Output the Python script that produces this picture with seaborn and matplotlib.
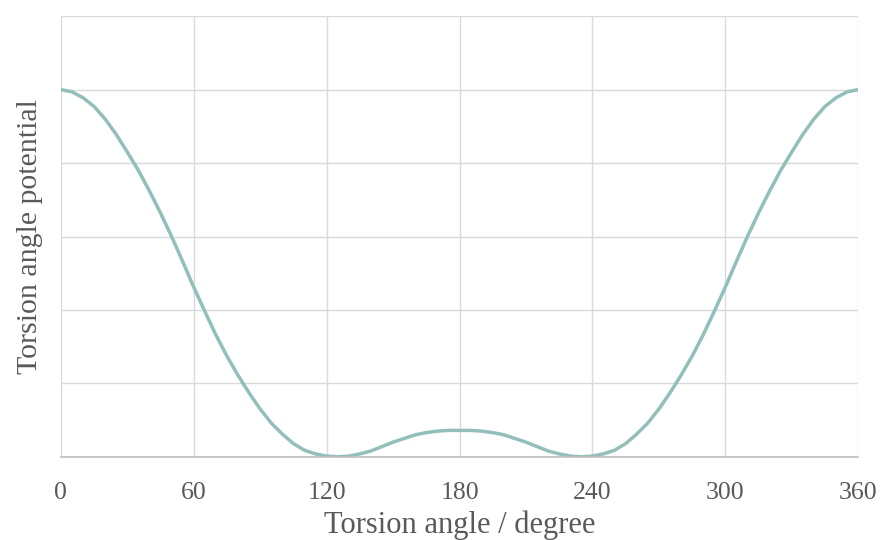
import matplotlib
matplotlib.use("Agg")
import matplotlib.pyplot as plt
import seaborn as sns
import pandas as pd

angles = [0, 5, 10, 15, 20, 25, 30, 35, 40, 45, 50, 55, 60, 65, 70, 75, 80, 85, 90,
          95, 100, 105, 110, 115, 120, 125, 130, 135, 140, 145, 150, 155, 160, 165, 170, 175,
          180, 185, 190, 195, 200, 205, 210, 215, 220, 225, 230, 235, 240, 245, 250, 255,
          260, 265, 270, 275, 280, 285, 290, 295, 300, 305, 310, 315, 320, 325, 330, 335,
          340, 345, 350, 355, 360]
potential = [5.00, 4.97, 4.89, 4.77, 4.60, 4.39, 4.15, 3.90, 3.62, 3.32, 3.00, 2.66,
             2.31, 1.98, 1.66, 1.37, 1.11, 0.87, 0.65, 0.46, 0.31, 0.18, 0.09, 0.04,
             0.01, 0.00, 0.01, 0.04, 0.08, 0.14, 0.20, 0.25, 0.30, 0.33, 0.35, 0.36,
             0.36, 0.36, 0.35, 0.33, 0.30, 0.25, 0.20, 0.14, 0.08, 0.04, 0.01, 0.00,
             0.01, 0.04, 0.09, 0.18, 0.31, 0.46, 0.65, 0.87, 1.11, 1.37, 1.66, 1.98,
             2.31, 2.66, 3.00, 3.32, 3.62, 3.90, 4.15, 4.39, 4.60, 4.77, 4.89, 4.97, 5.00]
x_ticks = [0, 60, 120, 180, 240, 300, 360]
y_grid = [0, 1, 2, 3, 4, 5, 6]

df = pd.DataFrame({"angle": angles, "potential": potential})

sns.set_theme(style="white")
plt.rcParams['font.family'] = ['Liberation Serif', 'DejaVu Serif']

fig = plt.figure(figsize=(8.82, 5.4), dpi=100)
ax = fig.add_axes([0.069, 0.154, 0.904, 0.816])

sns.lineplot(data=df, x="angle", y="potential", ax=ax, color="#93BFBB", linewidth=2.5)

ax.set_xlim(0, 360)
ax.set_ylim(0, 6)
ax.set_xticks(x_ticks)
ax.set_xticklabels([str(t) for t in x_ticks], fontsize=18.5, color="#595959")
ax.set_yticks(y_grid)
ax.set_yticklabels([])
ax.tick_params(axis="x", length=0, pad=18)
ax.tick_params(axis="y", length=0, pad=0)
ax.grid(True, color="#D9D9D9", linewidth=1.0)
ax.set_axisbelow(True)
for side in ["top", "right", "left"]:
    ax.spines[side].set_visible(False)
ax.spines["bottom"].set_color("#BFBFBF")
ax.spines["bottom"].set_linewidth(1.2)

ax.set_xlabel("Torsion angle / degree", fontsize=22, color="#595959", labelpad=5)
ax.set_ylabel("Torsion angle potential", fontsize=21.5, color="#595959", labelpad=13)

fig.savefig("out.png", dpi=100)
